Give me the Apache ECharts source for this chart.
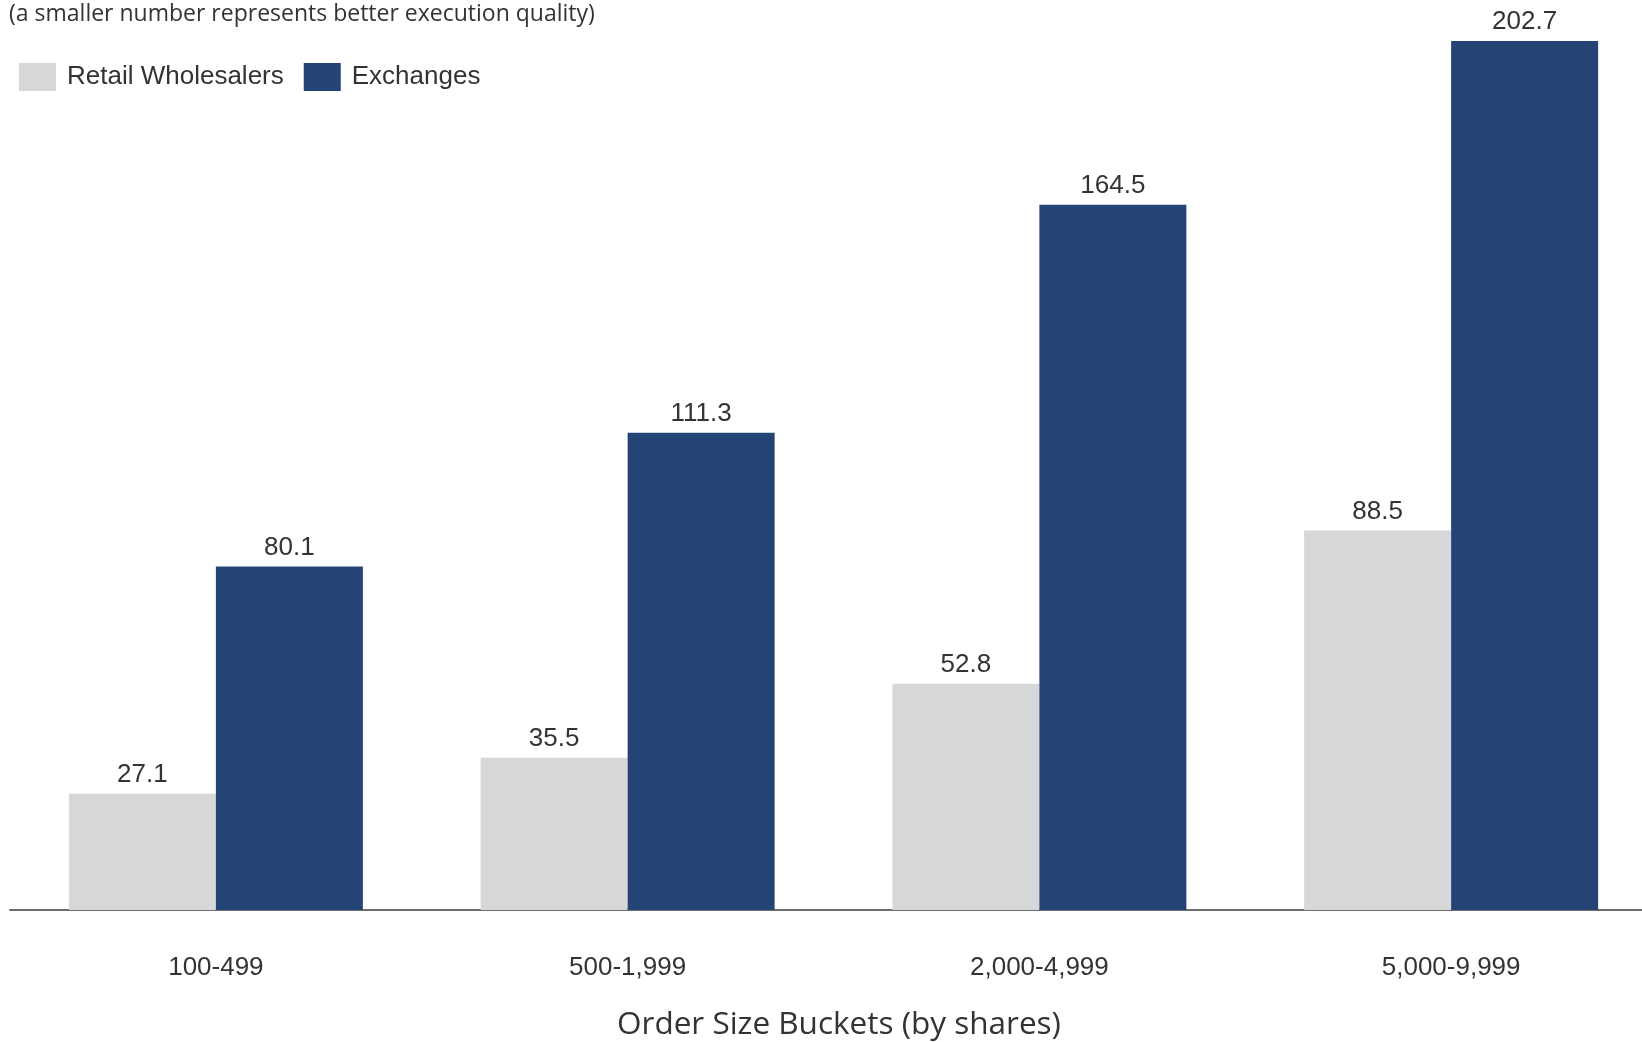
<!DOCTYPE html>
<html>
<head>
<meta charset="utf-8">
<script src="https://cdn.jsdelivr.net/npm/echarts@6/dist/echarts.min.js"></script>
<style>
html,body{margin:0;padding:0;background:#fff;}
#main{width:1642px;height:1042px;}
</style>
</head>
<body>
<div id="main"></div>
<script>
const categories = ['100-499', '500-1,999', '2,000-4,999', '5,000-9,999'];
const retailWholesalers = [27.1, 35.5, 52.8, 88.5];
const exchanges = [80.1, 111.3, 164.5, 202.7];
const seriesNames = ['Retail Wholesalers', 'Exchanges'];
const subtitle = '(a smaller number represents better execution quality)';
const xAxisTitle = 'Order Size Buckets (by shares)';

const chart = echarts.init(document.getElementById('main'));
const labelStyle = {
  show: true,
  position: 'top',
  distance: 6,
  color: '#333333',
  fontSize: 26,
  fontFamily: 'Liberation Sans, Arial, sans-serif',
  formatter: p => p.value.toFixed(1)
};
chart.setOption({
  backgroundColor: '#ffffff',
  animation: false,
  title: [
    {
      text: subtitle,
      left: 9,
      top: 3,
      padding: 0,
      textStyle: {fontFamily: 'Open Sans', fontSize: 23, fontWeight: 'normal', color: '#333333'}
    },
    {
      text: xAxisTitle,
      left: 617,
      top: 1009,
      padding: 0,
      textStyle: {fontFamily: 'Open Sans', fontSize: 31.5, fontWeight: 'normal', color: '#333333'}
    }
  ],
  legend: {
    left: 14,
    top: 58,
    itemWidth: 37,
    itemHeight: 28,
    itemGap: 20,
    icon: 'rect',
    data: seriesNames,
    textStyle: {fontFamily: 'Liberation Sans, Arial, sans-serif', fontSize: 26, color: '#333333', padding: [0, 0, 0, 6]}
  },
  grid: {left: 10, width: 1647, top: 41, bottom: 132, containLabel: false, outerBoundsMode: 'none'},
  xAxis: {
    type: 'category',
    data: categories,
    axisTick: {show: false},
    axisLine: {lineStyle: {color: '#6e6e6e', width: 2}},
    axisLabel: {margin: 45, fontSize: 26, color: '#333333', fontFamily: 'Liberation Sans, Arial, sans-serif'}
  },
  yAxis: {
    type: 'value',
    min: 0,
    max: 202.7,
    show: false,
    splitLine: {show: false}
  },
  series: [
    {
      name: seriesNames[0],
      type: 'bar',
      data: retailWholesalers,
      barWidth: 147,
      barGap: '0%',
      itemStyle: {color: '#d6d7d9'},
      label: labelStyle
    },
    {
      name: seriesNames[1],
      type: 'bar',
      data: exchanges,
      barWidth: 147,
      barGap: '0%',
      itemStyle: {color: '#254476'},
      label: labelStyle
    }
  ]
});
</script>
</body>
</html>
